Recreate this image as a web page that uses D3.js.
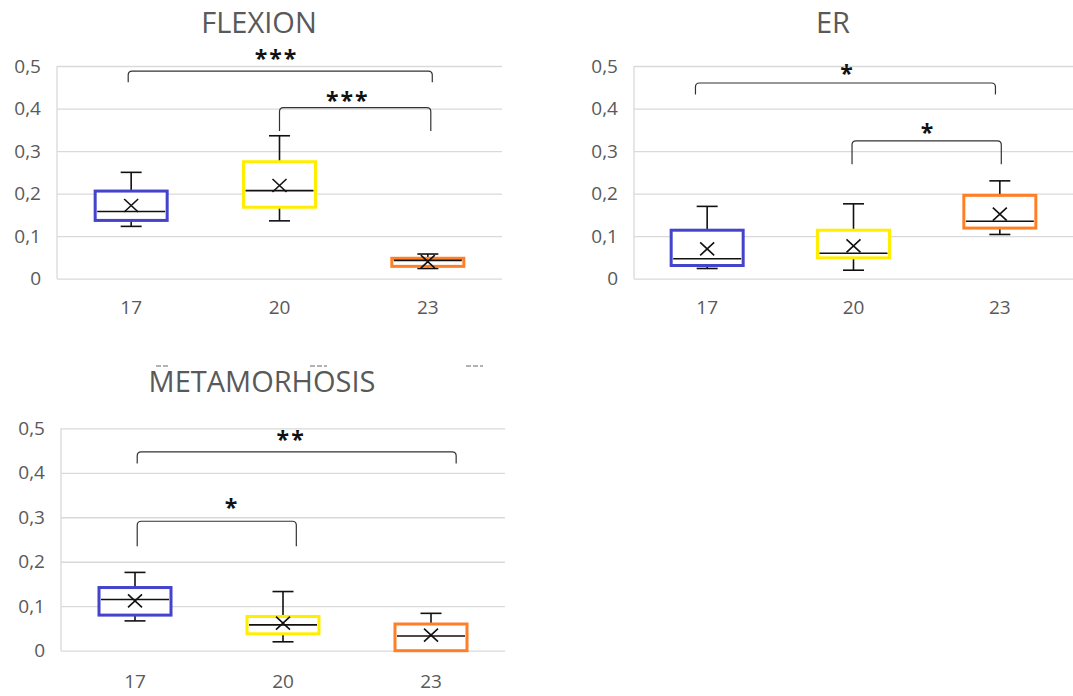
<!DOCTYPE html>
<html>
<head>
<meta charset="utf-8">
<script src="https://cdn.jsdelivr.net/npm/d3@7"></script>
<style>
  html, body { margin: 0; padding: 0; background: #fff; }
  svg { display: block; }
  text { font-family: "Open Sans", "Noto Sans", sans-serif; }
</style>
</head>
<body>
<svg id="chart" width="1073" height="696"></svg>
<script>
// ---------- DATA ----------
const categories = ["17", "20", "23"];
const yTickValues = [0, 0.1, 0.2, 0.3, 0.4, 0.5];
const boxColors = ["#4343cc", "#ffee00", "#ff7f27"];

// FLEXION
const flexionLow    = [0.123, 0.136, 0.024];
const flexionQ1     = [0.137, 0.168, 0.029];
const flexionMedian = [0.158, 0.207, 0.043];
const flexionQ3     = [0.206, 0.275, 0.048];
const flexionHigh   = [0.250, 0.336, 0.058];
const flexionMean   = [0.172, 0.219, 0.040];
const flexionBrackets = [
  { from: -0.02, to: 2.03, top: 0.488, end: 0.462, label: "***", labelAt: 0.98, labelY: 0.525 },
  { from: 1.0,   to: 2.02, top: 0.402, end: 0.347, label: "***", labelAt: 1.46, labelY: 0.427 }
];

// ER
const erLow    = [0.024, 0.020, 0.104];
const erQ1     = [0.031, 0.049, 0.119];
const erMedian = [0.047, 0.060, 0.135];
const erQ3     = [0.114, 0.114, 0.196];
const erHigh   = [0.170, 0.176, 0.230];
const erMean   = [0.070, 0.077, 0.152];
const erBrackets = [
  { from: -0.08, to: 1.97, top: 0.460, end: 0.433, label: "*", labelAt: 0.96, labelY: 0.490 },
  { from: 0.99,  to: 2.01, top: 0.324, end: 0.269, label: "*", labelAt: 1.51, labelY: 0.353 }
];

// METAMORHOSIS
const metaLow    = [0.067, 0.020, 0.000];
const metaQ1     = [0.080, 0.038, 0.000];
const metaMedian = [0.115, 0.058, 0.033];
const metaQ3     = [0.142, 0.077, 0.060];
const metaHigh   = [0.176, 0.133, 0.084];
const metaMean   = [0.112, 0.062, 0.035];
const metaBrackets = [
  { from: 0.015, to: 2.17, top: 0.447, end: 0.421, label: "**", labelAt: 1.055, labelY: 0.482 },
  { from: 0.015, to: 1.09, top: 0.291, end: 0.235, label: "*",  labelAt: 0.655, labelY: 0.330 }
];

// ---------- DRAW ----------
const svg = d3.select("#chart");
svg.append("rect").attr("width", 1073).attr("height", 696).attr("fill", "#fff");

const fmt = v => v === 0 ? "0" : d3.format(".1f")(v).replace(".", ",");

function drawPanel(p) {
  const x = d3.scaleBand().domain(categories).range([p.left, p.right]);
  const y = d3.scaleLinear().domain([0, 0.5]).range([p.bottom, p.top]);
  const bw = x.bandwidth();
  const cx = c => x(c) + bw / 2;
  const xi = d3.scaleLinear().domain([0, 2]).range([cx(categories[0]), cx(categories[2])]);
  const g = svg.append("g");

  // gridlines
  const grid = g.append("g").attr("transform", `translate(${p.left},0)`)
    .call(d3.axisLeft(y).tickValues(yTickValues).tickSize(-(p.right - p.left)).tickFormat(""));
  grid.select(".domain").remove();
  grid.selectAll("line").attr("stroke", "#d9d9d9").attr("stroke-width", 1.3);
  // left plot border
  g.append("line").attr("x1", p.left).attr("x2", p.left)
    .attr("y1", y(0.5)).attr("y2", y(0))
    .attr("stroke", "#d9d9d9").attr("stroke-width", 1.3);

  // y axis labels
  const ya = g.append("g").attr("transform", `translate(${p.left},0)`)
    .call(d3.axisLeft(y).tickValues(yTickValues).tickSize(0).tickPadding(16).tickFormat(fmt));
  ya.select(".domain").remove();
  ya.selectAll("text").attr("fill", "#595959").style("font-size", "19px")
    .style("font-family", "'Open Sans', sans-serif");

  // x axis labels
  const xa = g.append("g").attr("transform", `translate(0,${p.bottom})`)
    .call(d3.axisBottom(x).tickSize(0).tickPadding(p.xPad));
  xa.select(".domain").remove();
  xa.selectAll("text").attr("fill", "#595959").style("font-size", "19px")
    .style("font-family", "'Open Sans', sans-serif");

  // title
  g.append("text").attr("x", p.titleX).attr("y", p.titleY)
    .attr("text-anchor", "middle").attr("fill", "#595959")
    .style("font-size", "29px").text(p.title);

  // boxes
  const boxW = 72, capW = 21, line = "#111";
  categories.forEach((c, i) => {
    const X = cx(c);
    // whiskers
    if (p.high[i] > p.q3[i]) {
      g.append("line").attr("x1", X).attr("x2", X).attr("y1", y(p.q3[i])).attr("y2", y(p.high[i]))
        .attr("stroke", line).attr("stroke-width", 1.6);
      g.append("line").attr("x1", X - capW / 2).attr("x2", X + capW / 2)
        .attr("y1", y(p.high[i])).attr("y2", y(p.high[i])).attr("stroke", line).attr("stroke-width", 1.6);
    }
    if (p.low[i] < p.q1[i]) {
      g.append("line").attr("x1", X).attr("x2", X).attr("y1", y(p.q1[i])).attr("y2", y(p.low[i]))
        .attr("stroke", line).attr("stroke-width", 1.6);
      g.append("line").attr("x1", X - capW / 2).attr("x2", X + capW / 2)
        .attr("y1", y(p.low[i])).attr("y2", y(p.low[i])).attr("stroke", line).attr("stroke-width", 1.6);
    }
    // box
    g.append("rect").attr("x", X - boxW / 2).attr("width", boxW)
      .attr("y", y(p.q3[i])).attr("height", y(p.q1[i]) - y(p.q3[i]))
      .attr("fill", "#fff").attr("stroke", boxColors[i]).attr("stroke-width", 3);
    // median
    g.append("line").attr("x1", X - boxW / 2 + 2).attr("x2", X + boxW / 2 - 2)
      .attr("y1", y(p.median[i])).attr("y2", y(p.median[i]))
      .attr("stroke", line).attr("stroke-width", 1.6);
    // mean marker
    const my = y(p.mean[i]), hw = 7, hh = 6.5;
    g.append("path")
      .attr("d", `M${X - hw},${my - hh}L${X + hw},${my + hh}M${X - hw},${my + hh}L${X + hw},${my - hh}`)
      .attr("stroke", line).attr("stroke-width", 1.6).attr("fill", "none");
  });

  // significance brackets
  const r = 4;
  p.brackets.forEach(b => {
    const x1 = xi(b.from), x2 = xi(b.to), yt = y(b.top), yb = y(b.end);
    g.append("path")
      .attr("d", `M${x1},${yb}L${x1},${yt + r}Q${x1},${yt} ${x1 + r},${yt}L${x2 - r},${yt}Q${x2},${yt} ${x2},${yt + r}L${x2},${yb}`)
      .attr("fill", "none").attr("stroke", "#333").attr("stroke-width", 1.2);
    g.append("text").attr("x", xi(b.labelAt)).attr("y", y(b.labelY) + 12)
      .attr("text-anchor", "middle").attr("fill", "#111")
      .style("font-size", "23px").style("font-weight", "bold").style("letter-spacing", "2px")
      .text(b.label);
  });
  return g;
}

drawPanel({
  title: "FLEXION", titleX: 259, titleY: 33,
  left: 57, right: 502, top: 66, bottom: 278.7, xPad: 22,
  low: flexionLow, q1: flexionQ1, median: flexionMedian, q3: flexionQ3, high: flexionHigh, mean: flexionMean,
  brackets: flexionBrackets
});
drawPanel({
  title: "ER", titleX: 833, titleY: 33,
  left: 634, right: 1073, top: 66, bottom: 278.7, xPad: 22,
  low: erLow, q1: erQ1, median: erMedian, q3: erQ3, high: erHigh, mean: erMean,
  brackets: erBrackets
});
drawPanel({
  title: "METAMORHOSIS", titleX: 262, titleY: 392,
  left: 61, right: 505, top: 428.3, bottom: 650.7, xPad: 24,
  low: metaLow, q1: metaQ1, median: metaMedian, q3: metaQ3, high: metaHigh, mean: metaMean,
  brackets: metaBrackets
});

// small clipped-text fragments visible above the lower title
[[156, 168], [310, 327], [466, 483]].forEach(([a, b]) => {
  svg.append("line").attr("x1", a).attr("x2", b).attr("y1", 366).attr("y2", 366)
    .attr("stroke", "#666").attr("stroke-width", 1.2).attr("stroke-dasharray", "5,2");
});
</script>
</body>
</html>
